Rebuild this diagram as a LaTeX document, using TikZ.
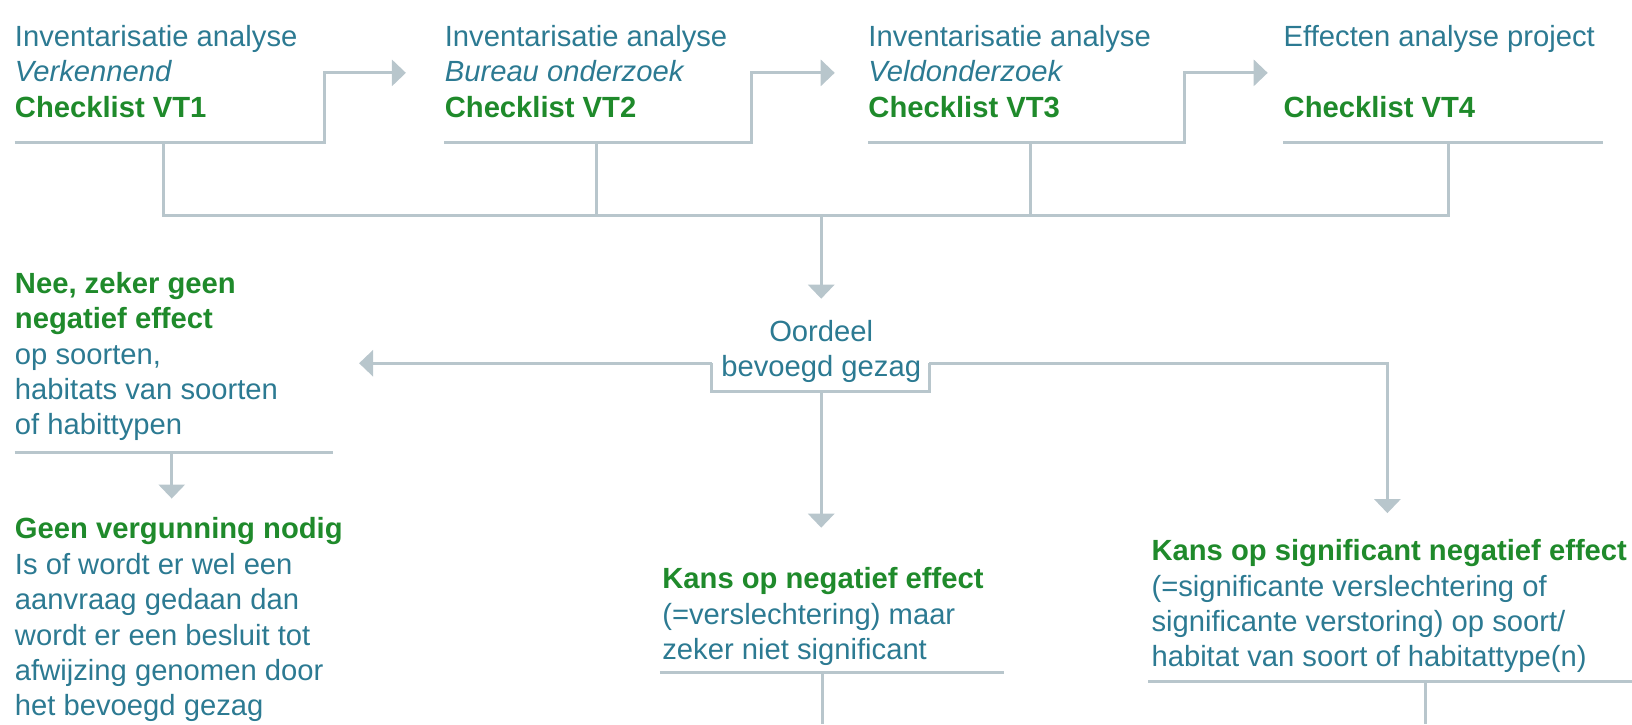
\documentclass[tikz,border=0pt]{standalone}
\usepackage{fontspec}
\setmainfont{Liberation Sans}
\usetikzlibrary{arrows.meta}
\definecolor{tekst}{HTML}{2C7A92}
\definecolor{groen}{HTML}{1F8A2B}
\definecolor{lijngrijs}{HTML}{B8C6CC}
\newcommand{\GR}[1]{\textcolor{groen}{\textbf{#1}}}

\begin{document}
\begin{tikzpicture}[x=0.5204pt, y=-0.5204pt,
  txt/.style={anchor=north west, align=left, inner sep=0pt, text=tekst,
    font=\fontsize{14.6}{17.7}\selectfont},
  streep/.style={draw=lijngrijs, line width=1.5pt},
  pijl/.style={streep, -{Triangle[width=13pt, length=7pt]}}]

  \useasboundingbox (0,0) rectangle (1568,696);

  %% stappen bovenaan
  \node[txt] (vt1) at (14,24) {Inventarisatie analyse\\ \textit{Verkennend}\\ \GR{Checklist VT1}};
  \node[txt] (vt2) at (427,24) {Inventarisatie analyse\\ \textit{Bureau onderzoek}\\ \GR{Checklist VT2}};
  \node[txt] (vt3) at (834,24) {Inventarisatie analyse\\ \textit{Veldonderzoek}\\ \GR{Checklist VT3}};
  \node[txt] (vt4) at (1233,24) {Effecten analyse project\\ ~\\ \GR{Checklist VT4}};

  %% oordeel
  \node[txt, anchor=north, align=center] (oordeel) at (789,307) {Oordeel\\ bevoegd gezag};

  %% uitkomsten
  \node[txt] (nee) at (14,261) {\GR{Nee, zeker geen}\\ \GR{negatief effect}\\ op soorten,\\ habitats van soorten\\ of habittypen};
  \node[txt] (geen) at (14,497) {\GR{Geen vergunning nodig}\\ Is of wordt er wel een\\ aanvraag gedaan dan\\ wordt er een besluit tot\\ afwijzing genomen door\\ het bevoegd gezag};
  \node[txt] (kans) at (636,545) {\GR{Kans op negatief effect}\\ (=verslechtering) maar\\ zeker niet significant};
  \node[txt] (sign) at (1106,518) {\GR{Kans op significant negatief effect}\\ (=significante verslechtering of\\ significante verstoring) op soort/\\ habitat van soort of habitattype(n)};

  %% hulppunten
  \coordinate (v1) at (157,207);
  \coordinate (v4) at (1392,207);
  \coordinate (mid) at (789,207);
  \coordinate (boxl) at (684,376);
  \coordinate (boxr) at (893,376);
  \coordinate (onder) at (789,376);
  \coordinate (naar2) at (390,70);
  \coordinate (naar3) at (802,70);
  \coordinate (naar4) at (1218,70);
  \coordinate (naarnee) at (345,349);
  \coordinate (naaroordeel) at (789,287);

  %% lijnen onder de stappen, met pijl naar de volgende
  \draw[pijl] (14,137) -- (312,137) |- (naar2);
  \draw[pijl] (427,137) -- (722,137) |- (naar3);
  \draw[pijl] (834,137) -- (1138,137) |- (naar4);
  \draw[streep] (1233,137) -- (1540,137);

  \draw[streep] (157,137) -- (v1) -- (v4) -- (1392,137);
  \draw[streep] (573,137) -- (573,207);
  \draw[streep] (990,137) -- (990,207);
  \draw[pijl] (mid) -- (naaroordeel);

  %% kader om oordeel
  \draw[pijl] (684,349) -- (naarnee);
  \draw[streep] (684,349) -- (boxl) -- (boxr) -- (893,349);
  \draw[pijl] (893,349) -| (1333,493);
  \draw[pijl] (onder) -- (789,507);

  %% links
  \draw[streep] (14,435) -- (320,435);
  \draw[pijl] (165,435) -- (165,479);

  %% midden en rechts
  \draw[streep] (634,646) -- (965,646);
  \draw[streep] (790,646) -- (790,696);
  \draw[streep] (1103,655) -- (1568,655);
  \draw[streep] (1370,655) -- (1370,696);
\end{tikzpicture}
\end{document}
